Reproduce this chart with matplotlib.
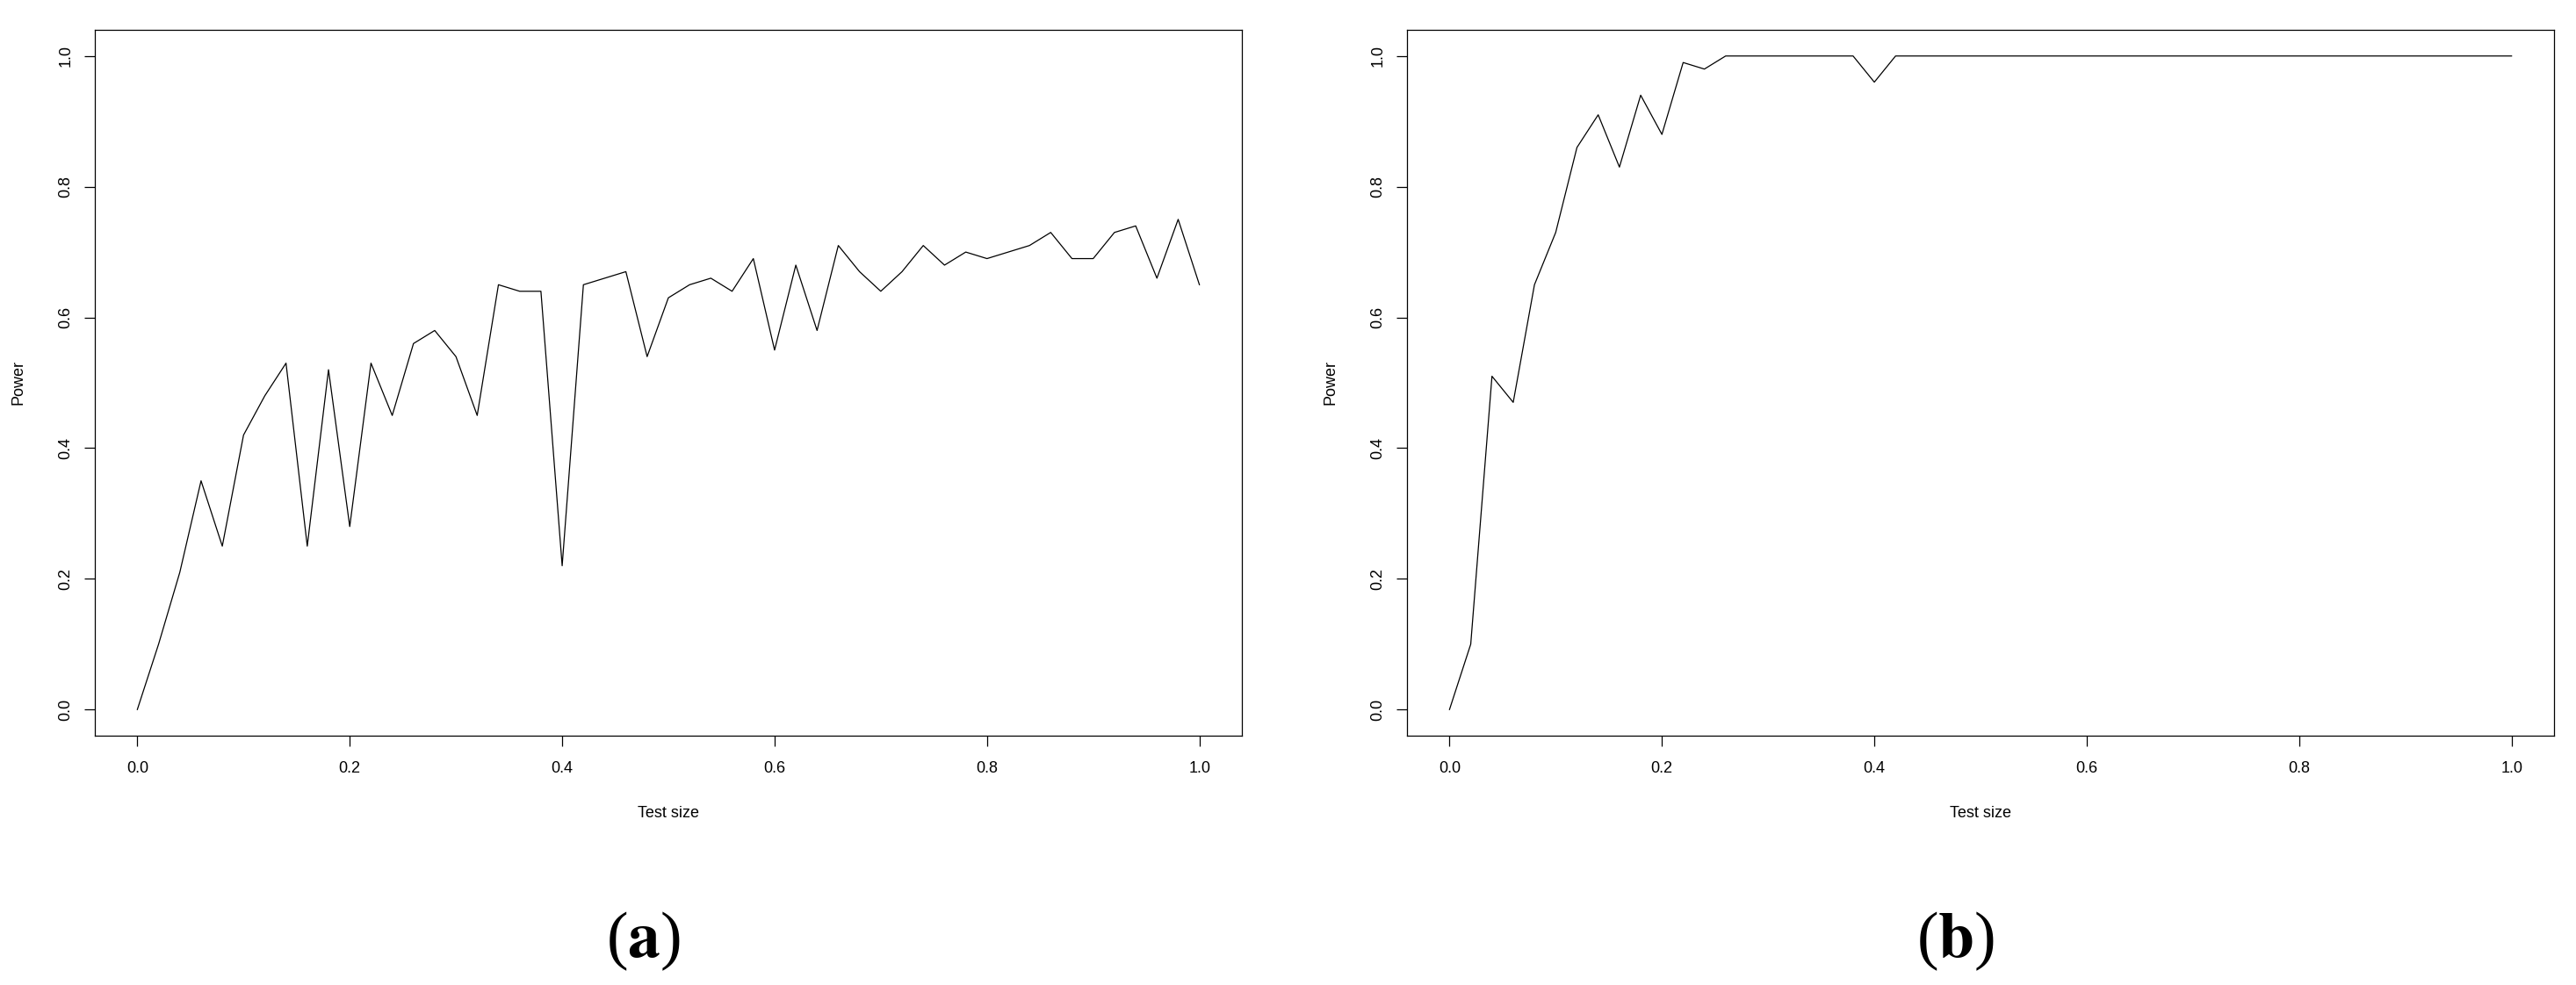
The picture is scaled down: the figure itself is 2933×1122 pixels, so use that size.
import matplotlib
matplotlib.use('Agg')

import matplotlib.pyplot as plt

# test sizes (x grid) and estimated power for the two panels
test_size = [0.00, 0.02, 0.04, 0.06, 0.08, 0.10, 0.12, 0.14, 0.16, 0.18,
             0.20, 0.22, 0.24, 0.26, 0.28, 0.30, 0.32, 0.34, 0.36, 0.38,
             0.40, 0.42, 0.44, 0.46, 0.48, 0.50, 0.52, 0.54, 0.56, 0.58,
             0.60, 0.62, 0.64, 0.66, 0.68, 0.70, 0.72, 0.74, 0.76, 0.78,
             0.80, 0.82, 0.84, 0.86, 0.88, 0.90, 0.92, 0.94, 0.96, 0.98,
             1.00]

power_a = [0.00, 0.10, 0.21, 0.35, 0.25, 0.42, 0.48, 0.53, 0.25, 0.52,
           0.28, 0.53, 0.45, 0.56, 0.58, 0.54, 0.45, 0.65, 0.64, 0.64,
           0.22, 0.65, 0.66, 0.67, 0.54, 0.63, 0.65, 0.66, 0.64, 0.69,
           0.55, 0.68, 0.58, 0.71, 0.67, 0.64, 0.67, 0.71, 0.68, 0.70,
           0.69, 0.70, 0.71, 0.73, 0.69, 0.69, 0.73, 0.74, 0.66, 0.75,
           0.65]

power_b = [0.00, 0.10, 0.51, 0.47, 0.65, 0.73, 0.86, 0.91, 0.83, 0.94,
           0.88, 0.99, 0.98, 1.00, 1.00, 1.00, 1.00, 1.00, 1.00, 1.00,
           0.96, 1.00, 1.00, 1.00, 1.00, 1.00, 1.00, 1.00, 1.00, 1.00,
           1.00, 1.00, 1.00, 1.00, 1.00, 1.00, 1.00, 1.00, 1.00, 1.00,
           1.00, 1.00, 1.00, 1.00, 1.00, 1.00, 1.00, 1.00, 1.00, 1.00,
           1.00]

ticks = [0.0, 0.2, 0.4, 0.6, 0.8, 1.0]
tick_labels = ['0.0', '0.2', '0.4', '0.6', '0.8', '1.0']
panel_labels = ['a', 'b']

plt.rcParams['font.family'] = ['Liberation Sans', 'DejaVu Sans']
plt.rcParams['mathtext.fontset'] = 'stix'

fig = plt.figure(figsize=(29.33, 11.22), dpi=100)

ax_a = fig.add_axes([0.03682, 0.25312, 0.44528, 0.71658])
ax_b = fig.add_axes([0.54620, 0.25312, 0.44528, 0.71658])

for ax, power in [(ax_a, power_a), (ax_b, power_b)]:
    ax.plot(test_size, power, color='black', linewidth=0.9)
    ax.set_xlim(-0.04, 1.04)
    ax.set_ylim(-0.04, 1.04)
    ax.set_xticks(ticks)
    ax.set_xticklabels(tick_labels)
    ax.set_yticks(ticks)
    ax.set_yticklabels(tick_labels, rotation=90, va='center')
    for s in ax.spines.values():
        s.set_linewidth(0.9)
        s.set_color('black')
    ax.tick_params(direction='out', length=8.6, width=0.9, labelsize=13,
                   colors='black')
    ax.tick_params(axis='x', pad=12)
    ax.tick_params(axis='y', pad=9)
    ax.set_xlabel('Test size', fontsize=13)
    ax.set_ylabel('Power', fontsize=13)
    ax.xaxis.set_label_coords(0.5, -0.100)
    ax.yaxis.set_label_coords(-0.060, 0.5)

# panel captions under each plot
fig.text(0.2496, 0.0446, r'($\mathbf{%s}$)' % panel_labels[0],
         family='Liberation Serif', fontsize=53, ha='center', va='center')
fig.text(0.7590, 0.0446, r'($\mathbf{%s}$)' % panel_labels[1],
         family='Liberation Serif', fontsize=53, ha='center', va='center')

plt.savefig('out.png', dpi=100)
plt.close()
